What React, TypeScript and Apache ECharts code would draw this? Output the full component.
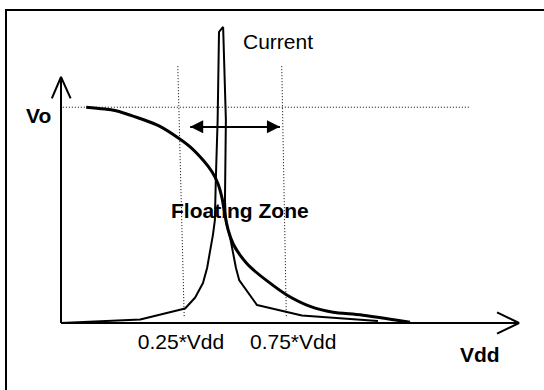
import React, { useEffect, useRef } from 'react';
import * as echarts from 'echarts';

// Diagram units: x = 0..100 from the Vo axis to the Vdd arrow tip, y = 0..114 from the Vdd axis
// to the Vo arrow tip (Vo level = 100). The plotting grid covers the whole picture.
const X_MIN = -13.32;
const X_MAX_VIEW = 105.46;
const Y_MIN = -31.05;
const Y_MAX_VIEW = 149.68;
const AXIS_X_END = 100;
const AXIS_Y_END = 114;
const VO_LEVEL = 100;

// Supply current (thin trace with the sharp spike)
const currentX = [0, 17.3, 27.1, 29.3, 31.0, 31.9, 33.2, 33.6, 33.8, 34.2, 34.5, 35.4, 36.0, 35.8, 36.0, 36.9, 38.2, 38.9, 42.8, 52.6, 69.2];
const currentY = [0, 1.6, 6.7, 11.8, 18.5, 25.5, 41.2, 47.7, 66.3, 94.1, 134.9, 137.2, 94.1, 57.0, 46.8, 39.9, 25.5, 19.9, 8.3, 3.5, 0.9];

// Output voltage (thick transfer curve)
const voltageX = [5.5, 11.8, 17.9, 21.6, 25.3, 28.2, 31.0, 33.0, 34.3, 35.2, 35.8, 36.5, 37.6, 39.1, 41.3, 45.0, 49.3, 54.4, 59.4, 65.3, 76.2];
const voltageY = [100, 98.5, 94.3, 91.1, 86.2, 81.6, 75.5, 70.0, 64.4, 57.5, 50.1, 43.1, 36.6, 31.5, 26.0, 19.5, 13.0, 7.7, 5.0, 3.8, 0.3];

// Dotted guides
const voGuideX = [0.4, 89.5];
const zoneLowX = [25.5, 26.9];
const zoneHighX = [48.2, 49.2];
const zoneY = [119, 2.8];

// Floating-zone double arrow
const zoneArrowX = [28.2, 47.8];
const zoneArrowY = 91;

// Axes and their open arrow heads
const xAxisLineX = [0, AXIS_X_END];
const xAxisLineY = [0, 0];
const yAxisLineX = [0, 0];
const yAxisLineY = [0, AXIS_Y_END];
const yChevronX = [-2.0, 0, 2.1];
const yChevronY = [104.1, AXIS_Y_END, 104.1];
const xChevronX = [95.2, AXIS_X_END, 95.2];
const xChevronY = [4.9, 0, -4.9];

// Tick labels on the Vdd axis
const tickValues = [26.2, 50.7];
const tickLabels = ['0.25*Vdd', '0.75*Vdd'];

const FONT = '"Liberation Sans", Arial, sans-serif';
const zip = (xs: number[], ys: number[]) => xs.map((x, i) => [x, ys[i]]);

export default function App() {
  const ref = useRef<HTMLDivElement>(null);
  useEffect(() => {
    if (!ref.current) return;
    const chart = echarts.init(ref.current, null, { renderer: 'svg' });
    const black = '#000';
    const dotted = { color: black, width: 1, type: [1, 2] as number[] };
    const solid2 = { color: black, width: 2 };
    const base = { type: 'line' as const, symbol: 'none', clip: false, silent: true, animation: false };
    chart.setOption({
      animation: false,
      backgroundColor: '#fff',
      grid: { left: 0, right: 0, top: 0, bottom: 0, outerBoundsMode: 'none', containLabel: false },
      xAxis: {
        type: 'value', min: X_MIN, max: X_MAX_VIEW,
        axisLine: { show: false },
        axisTick: { show: false },
        splitLine: { show: false },
        axisLabel: { show: false },
      },
      yAxis: {
        type: 'value', min: Y_MIN, max: Y_MAX_VIEW,
        axisLine: { show: false },
        axisTick: { show: false },
        splitLine: { show: false },
        axisLabel: { show: false },
      },
      series: [
        { ...base, name: 'Vo guide', data: zip(voGuideX, [VO_LEVEL, VO_LEVEL]), lineStyle: dotted },
        { ...base, name: 'zone low', data: zip(zoneLowX, zoneY), lineStyle: dotted },
        { ...base, name: 'zone high', data: zip(zoneHighX, zoneY), lineStyle: dotted },
        { ...base, name: 'Vdd axis', data: zip(xAxisLineX, xAxisLineY), lineStyle: solid2 },
        { ...base, name: 'Vo axis', data: zip(yAxisLineX, yAxisLineY), lineStyle: solid2 },
        { ...base, name: 'Current', data: zip(currentX, currentY), lineStyle: solid2 },
        { ...base, name: 'Vo', data: zip(voltageX, voltageY), smooth: 0.2, lineStyle: { color: black, width: 3 } },
        { ...base, name: 'y arrow', data: zip(yChevronX, yChevronY), lineStyle: solid2 },
        { ...base, name: 'x arrow', data: zip(xChevronX, xChevronY), lineStyle: solid2 },
        {
          ...base, name: 'zone arrow', data: [],
          markLine: {
            silent: true,
            symbol: ['triangle', 'triangle'],
            symbolSize: [13, 13],
            symbolOffset: [[0, 6.5], [0, 6.5]],
            label: { show: false },
            lineStyle: { color: black, width: 2, type: 'solid' },
            data: [[{ coord: [zoneArrowX[0], zoneArrowY] }, { coord: [zoneArrowX[1], zoneArrowY] }]],
          },
        },
        {
          type: 'scatter', name: 'tick labels', silent: true, symbolSize: 0,
          itemStyle: { color: black, opacity: 1 },
          data: tickValues.map((v, i) => ({ value: [v, 0], name: tickLabels[i] })),
          label: {
            show: true, position: 'bottom', distance: 8, opacity: 1,
            formatter: (p: any) => p.name,
            color: black, fontSize: 21, fontFamily: FONT,
          },
        },
      ],
      graphic: [
        { type: 'rect', shape: { x: 6, y: 10, width: 600, height: 500 }, style: { fill: 'none', stroke: black, lineWidth: 2 }, silent: true },
        { type: 'text', x: 26, y: 115, style: { text: 'Vo', fontSize: 21, fontWeight: 'bold', fontFamily: FONT, fill: black, textAlign: 'left', textVerticalAlign: 'middle' } },
        { type: 'text', x: 243, y: 41, style: { text: 'Current', fontSize: 21, fontFamily: FONT, fill: black, textAlign: 'left', textVerticalAlign: 'middle' } },
        { type: 'text', x: 171, y: 210, style: { text: 'Floating Zone', fontSize: 21, fontWeight: 'bold', fontFamily: FONT, fill: black, textAlign: 'left', textVerticalAlign: 'middle' } },
        { type: 'text', x: 460, y: 354, style: { text: 'Vdd', fontSize: 21, fontWeight: 'bold', fontFamily: FONT, fill: black, textAlign: 'left', textVerticalAlign: 'middle' } },
      ],
    });
    return () => chart.dispose();
  }, []);
  return <div ref={ref} style={{ position: 'fixed', left: 0, top: 0, width: 544, height: 390 }} />;
}
